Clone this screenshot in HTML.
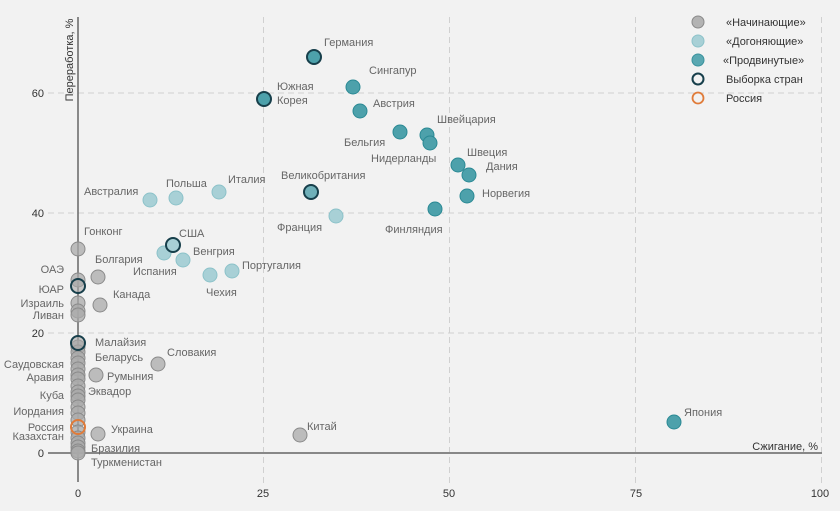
<!DOCTYPE html>
<html><head><meta charset="utf-8"><style>
html,body{margin:0;padding:0;background:#f2f2f2;}
svg{display:block;}
text{font-family:"Liberation Sans",sans-serif;}
.lb{font-size:11px;fill:#666;}
.tk{font-size:11px;fill:#333;}
.g{fill:#a9a9a9;fill-opacity:0.75;stroke:#8a8a8a;stroke-width:1;}
.l{fill:#a8d0d6;stroke:#8cc2c9;stroke-width:1;}
.a{fill:#4da1ab;stroke:#2a8994;stroke-width:1;}
.s{stroke:#173f4b;stroke-width:2;}
.r{fill:none;stroke:#e07b39;stroke-width:2;}
</style></head><body>
<svg width="840" height="511" viewBox="0 0 840 511" xmlns="http://www.w3.org/2000/svg">
<rect width="840" height="511" fill="#f2f2f2"/>
<!-- grid -->
<g stroke="#d0d0d0" stroke-width="1" stroke-dasharray="6,4">
<line x1="48" y1="93" x2="822" y2="93"/>
<line x1="48" y1="213" x2="822" y2="213"/>
<line x1="48" y1="333" x2="822" y2="333"/>
<line x1="263.5" y1="17" x2="263.5" y2="483"/>
<line x1="449.5" y1="17" x2="449.5" y2="483"/>
<line x1="635.5" y1="17" x2="635.5" y2="483"/>
<line x1="821.5" y1="17" x2="821.5" y2="483"/>
</g>
<!-- axes -->
<line x1="48" y1="453" x2="822" y2="453" stroke="#888" stroke-width="2"/>
<line x1="78" y1="17" x2="78" y2="482" stroke="#666" stroke-width="1.5"/>
<!-- tick labels -->
<g class="tk" text-anchor="end">
<text x="44" y="97">60</text>
<text x="44" y="217">40</text>
<text x="44" y="337">20</text>
<text x="44" y="457">0</text>
</g>
<g class="tk" text-anchor="middle">
<text x="78" y="497">0</text>
<text x="263" y="497">25</text>
<text x="449" y="497">50</text>
<text x="636" y="497">75</text>
<text x="820" y="497">100</text>
</g>
<text class="tk" x="818" y="450" text-anchor="end">Сжигание, %</text>
<text class="tk" transform="translate(73,60) rotate(-90)" text-anchor="middle">Переработка, %</text>

<!-- beginners stack at x=0 -->
<g class="g">
<circle cx="78" cy="249" r="7"/>
<circle cx="78" cy="280" r="7"/>
<circle cx="78" cy="303" r="7"/>
<circle cx="78" cy="311" r="7"/>
<circle cx="78" cy="315" r="7"/>
<circle cx="78" cy="347" r="7"/>
<circle cx="78" cy="352" r="7"/>
<circle cx="78" cy="358" r="7"/>
<circle cx="78" cy="363" r="7"/>
<circle cx="78" cy="369" r="7"/>
<circle cx="78" cy="375" r="7"/>
<circle cx="78" cy="379" r="7"/>
<circle cx="78" cy="386" r="7"/>
<circle cx="78" cy="392" r="7"/>
<circle cx="78" cy="396" r="7"/>
<circle cx="78" cy="400" r="7"/>
<circle cx="78" cy="407" r="7"/>
<circle cx="78" cy="413" r="7"/>
<circle cx="78" cy="420" r="7"/>
<circle cx="78" cy="432" r="7"/>
<circle cx="78" cy="438" r="7"/>
<circle cx="78" cy="443" r="7"/>
<circle cx="78" cy="447" r="7"/>
<circle cx="78" cy="451" r="7"/>
<circle cx="78" cy="453" r="7"/>
<circle cx="98" cy="277" r="7"/>
<circle cx="100" cy="305" r="7"/>
<circle cx="158" cy="364" r="7"/>
<circle cx="96" cy="375" r="7"/>
<circle cx="98" cy="434" r="7"/>
<circle cx="300" cy="435" r="7"/>
</g>
<circle cx="78" cy="286" r="7" fill="#a9a9a9" fill-opacity="0.6" stroke="#173f4b" stroke-width="2"/>
<circle cx="78" cy="343" r="7" fill="#a9a9a9" fill-opacity="0.6" stroke="#173f4b" stroke-width="2"/>
<circle cx="78" cy="427" r="7" class="r"/>

<!-- catching up -->
<g class="l">
<circle cx="150" cy="200" r="7"/>
<circle cx="176" cy="198" r="7"/>
<circle cx="219" cy="192" r="7"/>
<circle cx="336" cy="216" r="7"/>
<circle cx="164" cy="253" r="7"/>
<circle cx="183" cy="260" r="7"/>
<circle cx="210" cy="275" r="7"/>
<circle cx="232" cy="271" r="7"/>
</g>
<circle cx="173" cy="245" r="7" fill="#a8d0d6" stroke="#173f4b" stroke-width="2"/>

<!-- advanced -->
<g class="a">
<circle cx="353" cy="87" r="7"/>
<circle cx="360" cy="111" r="7"/>
<circle cx="400" cy="132" r="7"/>
<circle cx="427" cy="135" r="7"/>
<circle cx="430" cy="143" r="7"/>
<circle cx="458" cy="165" r="7"/>
<circle cx="469" cy="175" r="7"/>
<circle cx="467" cy="196" r="7"/>
<circle cx="435" cy="209" r="7"/>
<circle cx="674" cy="422" r="7"/>
</g>
<circle cx="314" cy="57" r="7" fill="#4da1ab" stroke="#173f4b" stroke-width="2"/>
<circle cx="264" cy="99" r="7" fill="#4da1ab" stroke="#173f4b" stroke-width="2"/>
<circle cx="311" cy="192" r="7" fill="#6fb0b9" stroke="#173f4b" stroke-width="2"/>

<!-- labels -->
<g class="lb">
<text x="324" y="46">Германия</text>
<text x="369" y="74">Сингапур</text>
<text x="277" y="90">Южная</text>
<text x="277" y="104">Корея</text>
<text x="373" y="107">Австрия</text>
<text x="344" y="146">Бельгия</text>
<text x="437" y="123">Швейцария</text>
<text x="371" y="162">Нидерланды</text>
<text x="467" y="156">Швеция</text>
<text x="486" y="170">Дания</text>
<text x="482" y="197">Норвегия</text>
<text x="385" y="233">Финляндия</text>
<text x="281" y="179">Великобритания</text>
<text x="277" y="231">Франция</text>
<text x="84" y="195">Австралия</text>
<text x="166" y="187">Польша</text>
<text x="228" y="183">Италия</text>
<text x="84" y="235">Гонконг</text>
<text x="179" y="237">США</text>
<text x="95" y="263">Болгария</text>
<text x="193" y="255">Венгрия</text>
<text x="133" y="275">Испания</text>
<text x="242" y="269">Португалия</text>
<text x="206" y="296">Чехия</text>
<text x="113" y="298">Канада</text>
<text x="95" y="346">Малайзия</text>
<text x="95" y="361">Беларусь</text>
<text x="107" y="380">Румыния</text>
<text x="167" y="356">Словакия</text>
<text x="88" y="395">Эквадор</text>
<text x="111" y="433">Украина</text>
<text x="91" y="452">Бразилия</text>
<text x="91" y="466">Туркменистан</text>
<text x="307" y="430">Китай</text>
<text x="684" y="416">Япония</text>
</g>
<g class="lb" text-anchor="end">
<text x="64" y="273">ОАЭ</text>
<text x="64" y="293">ЮАР</text>
<text x="64" y="307">Израиль</text>
<text x="64" y="319">Ливан</text>
<text x="64" y="368">Саудовская</text>
<text x="64" y="381">Аравия</text>
<text x="64" y="399">Куба</text>
<text x="64" y="415">Иордания</text>
<text x="64" y="431">Россия</text>
<text x="64" y="440">Казахстан</text>
</g>

<!-- legend -->
<circle cx="698" cy="22" r="6" fill="#b3b3b3" stroke="#8a8a8a" stroke-width="1"/>
<circle cx="698" cy="41" r="6" fill="#a8d0d6" stroke="#8cc2c9" stroke-width="1"/>
<circle cx="698" cy="60" r="6" fill="#5aa8b2" stroke="#3a929d" stroke-width="1"/>
<circle cx="698" cy="79" r="5.5" fill="none" stroke="#173f4b" stroke-width="2"/>
<circle cx="698" cy="98" r="5.5" fill="none" stroke="#e07b39" stroke-width="1.8"/>
<g class="tk" fill="#333">
<text x="726" y="26">«Начинающие»</text>
<text x="726" y="45">«Догоняющие»</text>
<text x="723" y="64">«Продвинутые»</text>
<text x="726" y="83">Выборка стран</text>
<text x="726" y="102">Россия</text>
</g>
</svg>
</body></html>
